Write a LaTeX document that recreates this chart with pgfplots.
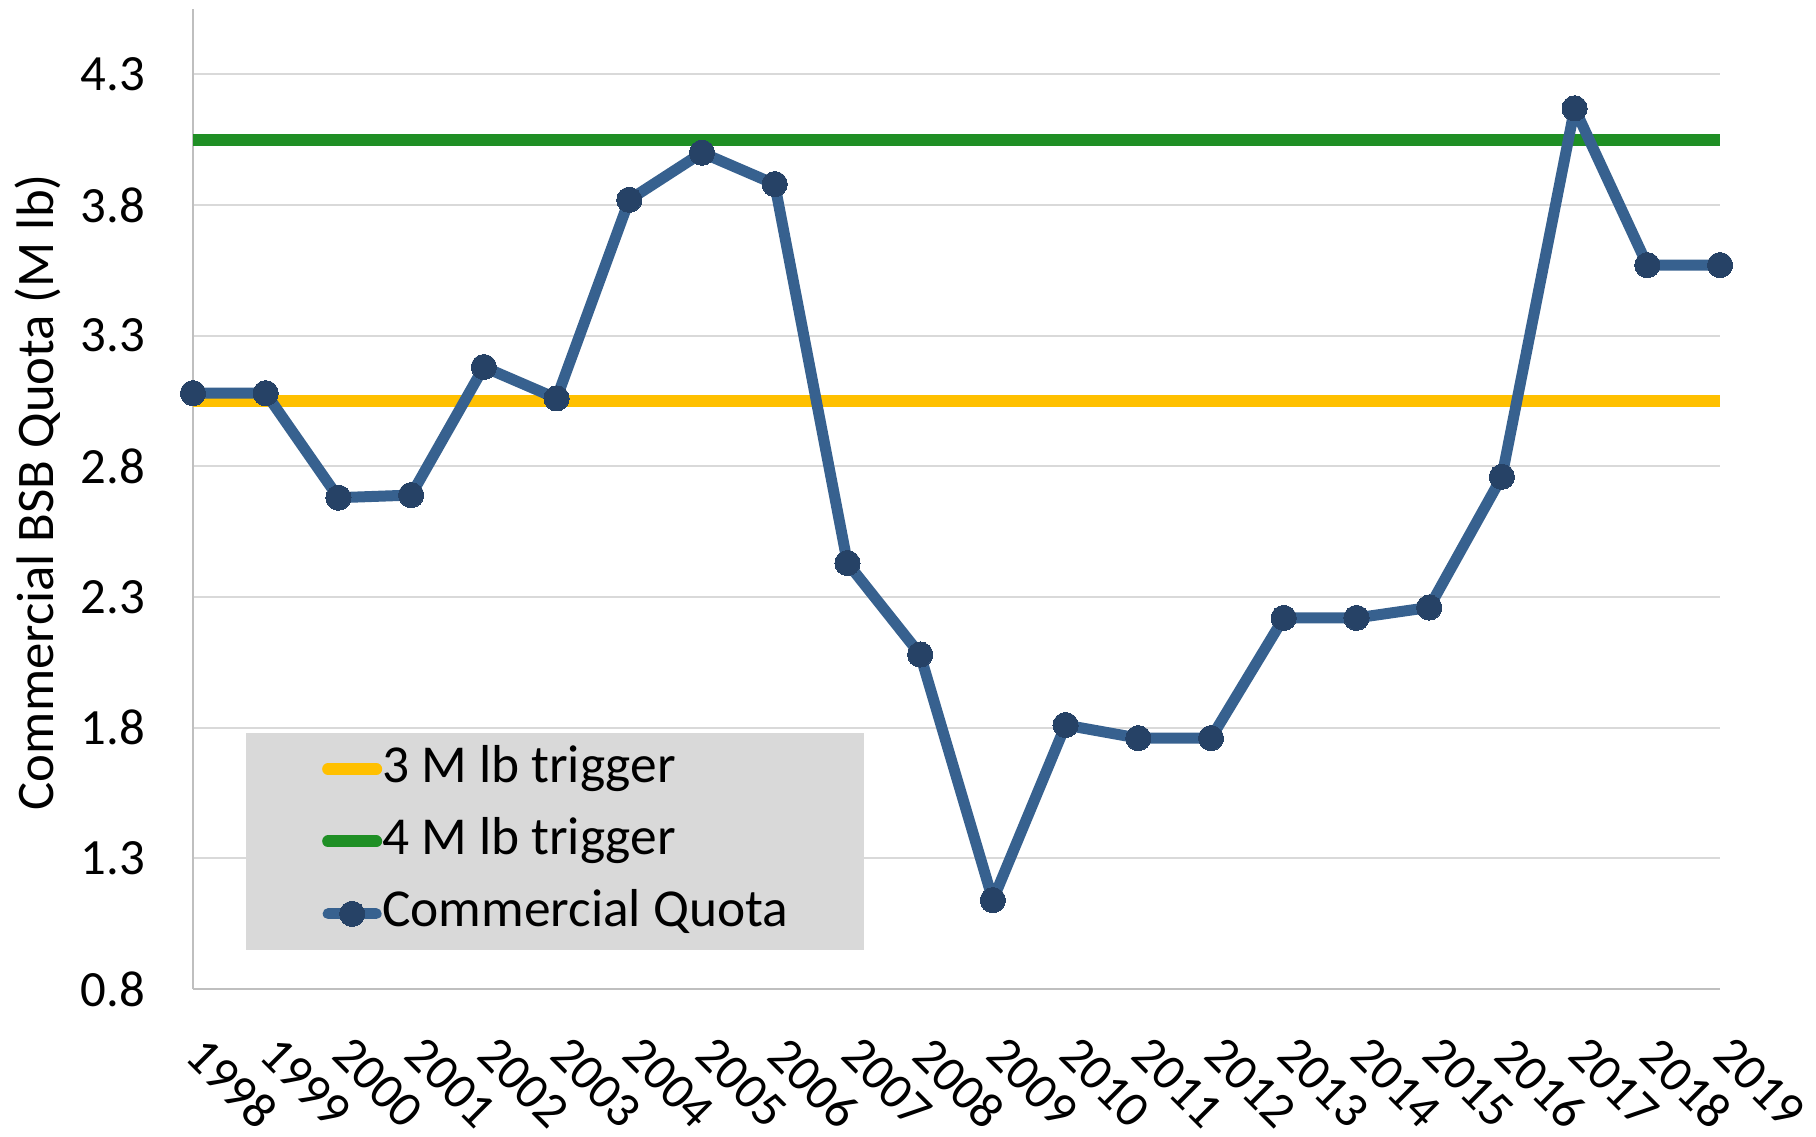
\documentclass[border=0pt]{standalone}
\usepackage{pgfplots}
\pgfplotsset{compat=1.18}
\usepackage{fontspec}
\setmainfont{Carlito}
\definecolor{trigY}{HTML}{FFC000}
\definecolor{trigG}{HTML}{1F8F25}
\definecolor{quotaL}{HTML}{37618F}
\definecolor{quotaM}{HTML}{264266}
\definecolor{gridc}{HTML}{D9D9D9}
\definecolor{axisc}{HTML}{BFBFBF}
\definecolor{legfill}{HTML}{D9D9D9}
\begin{document}
\begin{tikzpicture}
\begin{axis}[
  at={(0,0)}, anchor=south west,
  scale only axis,
  width=381.75pt, height=245pt,
  xmin=1998, xmax=2019,
  ymin=0.8, ymax=4.55,
  clip=false,
  axis x line*=bottom, axis y line*=left,
  axis line style={draw=axisc, line width=0.5pt, -},
  xtick={1998,1999,2000,2001,2002,2003,2004,2005,2006,2007,2008,2009,2010,2011,2012,2013,2014,2015,2016,2017,2018,2019},
  xticklabels={1998,1999,2000,2001,2002,2003,2004,2005,2006,2007,2008,2009,2010,2011,2012,2013,2014,2015,2016,2017,2018,2019},
  ytick={0.8,1.3,1.8,2.3,2.8,3.3,3.8,4.3},
  yticklabels={0.8,1.3,1.8,2.3,2.8,3.3,3.8,4.3},
  major tick length=0pt,
  ymajorgrids,
  grid style={draw=gridc, line width=0.45pt},
  /pgf/number format/assume math mode=true,
  ticklabel style={font=\fontsize{12.7}{15}\selectfont},
  xticklabel style={rotate=-45, anchor=north west, yshift=-1.85pt, xshift=7.15pt},
  yticklabel style={xshift=-8.5pt},
  ylabel={Commercial BSB Quota (M lb)},
  ylabel style={at={(axis description cs:-0.1015,0.507)}, anchor=center, font=\fontsize{13.2}{15.8}\selectfont},
  legend style={at={(axis description cs:0.0343,0.2622)}, anchor=north west,
    fill=legfill, draw=none, inner xsep=19pt, inner ysep=3.3pt,
    row sep=6.6pt,
    font=\fontsize{13.35}{16}\selectfont,
    nodes={inner sep=0pt, text height=9pt, text depth=2.5pt}},
  legend cell align=left,
  legend image code/.code={
    \draw[#1, line cap=round, mark repeat=2, mark phase=2] plot coordinates {(0pt,0pt) (6pt,0pt) (12pt,0pt)};
  },
]
\addplot[draw=trigY, line width=3pt, no marks] coordinates {(1998,3.05) (2019,3.05)};
\addlegendentry{3 M lb trigger}
\addplot[draw=trigG, line width=3pt, no marks] coordinates {(1998,4.05) (2019,4.05)};
\addlegendentry{4 M lb trigger}
\addplot[draw=quotaL, line width=2.75pt, line join=round, mark=*, mark size=3.15pt,
  mark options={fill=quotaM, draw=quotaM, line width=0pt}] coordinates {
  (1998,3.08) (1999,3.08) (2000,2.68) (2001,2.69) (2002,3.18) (2003,3.06)
  (2004,3.82) (2005,4.00) (2006,3.88) (2007,2.43) (2008,2.08) (2009,1.14)
  (2010,1.81) (2011,1.76) (2012,1.76) (2013,2.22) (2014,2.22) (2015,2.26)
  (2016,2.76) (2017,4.17) (2018,3.57) (2019,3.57)};
\addlegendentry{Commercial Quota}
\end{axis}
\pgfresetboundingbox
\path (-48.25pt,-36.75pt) rectangle (405.75pt,247.25pt);
\end{tikzpicture}
\end{document}
